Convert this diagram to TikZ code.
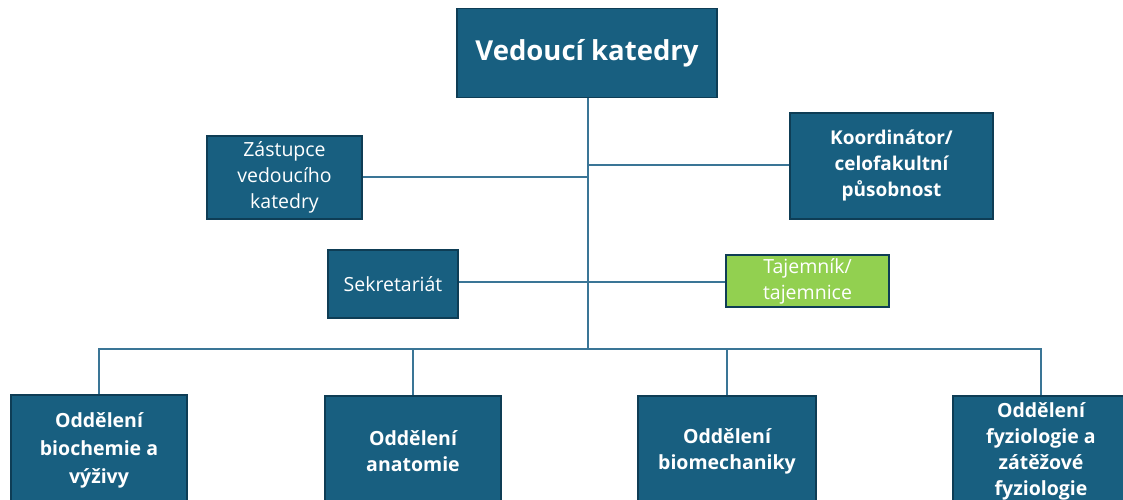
\documentclass[tikz,border=0pt]{standalone}
\usepackage{fontspec}
\setmainfont{Open Sans}
\definecolor{boxblue}{HTML}{185F80}
\definecolor{boxedge}{HTML}{0E3D55}
\definecolor{linecol}{HTML}{3A7596}
\definecolor{greenbox}{HTML}{92D050}
\tikzset{
  box/.style={draw=boxedge, line width=1.6pt, fill=boxblue, text=white, align=center, inner sep=0pt},
  reg/.style={font=\fontsize{19.5}{26}\selectfont},
  bld/.style={font=\fontsize{19}{26}\selectfont\bfseries},
  bbld/.style={font=\fontsize{19.5}{26}\selectfont\bfseries},
  conn/.style={draw=linecol, line width=1.4pt}
}
\begin{document}
\begin{tikzpicture}[x=1pt,y=-1pt]
\useasboundingbox (0,0) rectangle (1123,500);
\clip (0,0) rectangle (1123,500);
\fill[white] (0,0) rectangle (1123,500);
% nodes
\node[box, minimum width=260, minimum height=89, font=\fontsize{27.5}{32}\selectfont\bfseries] (ved) at (587,53) {Vedoucí katedry};
\node[box, reg, minimum width=155, minimum height=83] (zas) at (284.5,177.5) {Zástupce\\vedoucího\\katedry};
\node[box, reg, minimum width=130, minimum height=68] (sek) at (393,284) {Sekretariát};
\node[box, bld, minimum width=203, minimum height=106] (koo) at (891.5,166) {Koordinátor/\\celofakultní\\působnost};
\node[box, reg, fill=greenbox, minimum width=163, minimum height=52] (taj) at (807.5,281) {Tajemník/\\tajemnice};
\node[box, bbld, font=\fontsize{19.5}{28}\selectfont\bfseries, minimum width=176, minimum height=110] (bio) at (99,450) {Oddělení\\biochemie a\\výživy};
\node[box, bbld, minimum width=176, minimum height=110] (ana) at (413,451) {Oddělení\\anatomie};
\node[box, bbld, minimum width=178, minimum height=110] (bmc) at (727,451) {Oddělení\\biomechaniky};
\node[box, bbld, minimum width=176, minimum height=110] (fyz) at (1041,451) {Oddělení\\fyziologie a\\zátěžové\\fyziologie};
% connectors
\coordinate (busy) at (588,349);
\draw[conn] (ved.south -| busy) -- (busy);
\draw[conn] (zas.east |- 0,177) -- (busy |- 0,177);
\draw[conn] (koo.west |- 0,165) -- (busy |- 0,165);
\draw[conn] (sek.east |- 0,282) -- (busy |- 0,282);
\draw[conn] (busy |- 0,282) -- (taj.west |- 0,282);
\draw[conn] (bio.north) -- (bio.north |- busy) -- (fyz.north |- busy) -- (fyz.north);
\draw[conn] (ana.north) -- (ana.north |- busy);
\draw[conn] (bmc.north) -- (bmc.north |- busy);
\end{tikzpicture}
\end{document}
